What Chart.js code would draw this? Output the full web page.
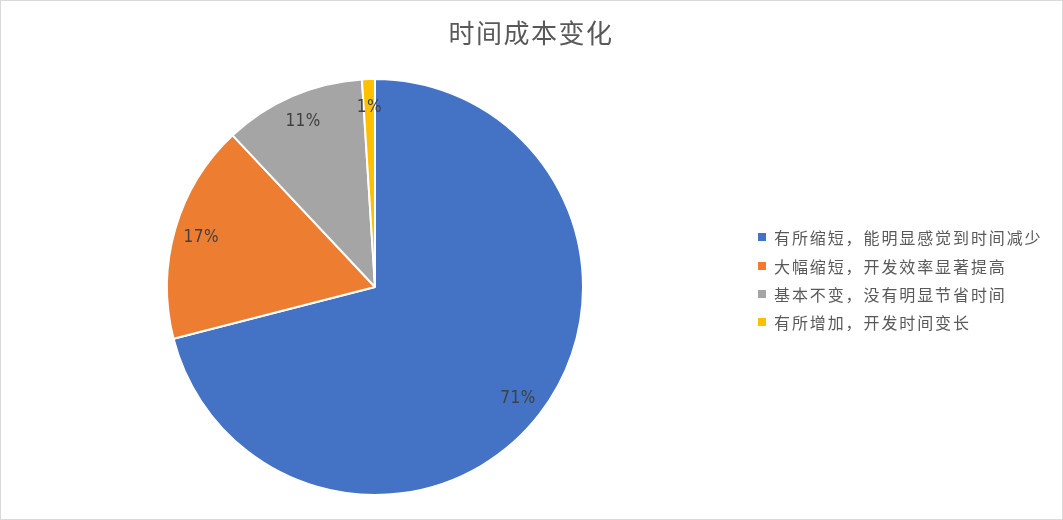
<!DOCTYPE html>
<html>
<head>
<meta charset="utf-8">
<script src="https://cdn.jsdelivr.net/npm/chart.js@4"></script>
<style>
  html, body { margin: 0; padding: 0; background: #fff; overflow: hidden; }
  #wrap { width: 1063px; height: 520px; position: relative; }
</style>
</head>
<body>
<div id="wrap"><canvas id="pie" width="1063" height="520"></canvas></div>
<script>
// ── Datos del gráfico ──
const chartTitle = '时间成本变化';
const categories = [
    '有所缩短，能明显感觉到时间减少',
    '大幅缩短，开发效率显著提高',
    '基本不变，没有明显节省时间',
    '有所增加，开发时间变长'
];
const values = [71, 17, 11, 1];
const colors = ['#4472C4', '#ED7D31', '#A5A5A5', '#FFC000'];

const CJK = '"Noto Sans CJK SC", "Noto Sans", sans-serif';

// ── Plugin: marco, título, leyenda y etiquetas de porcentaje ──
const decorPlugin = {
    id: 'decor',
    afterDraw(chart) {
        const ctx = chart.ctx;
        ctx.save();

        // marco exterior
        ctx.strokeStyle = '#d9d9d9';
        ctx.lineWidth = 1;
        ctx.strokeRect(0.5, 0.5, chart.width - 1, chart.height - 1);

        // título
        ctx.fillStyle = '#595959';
        ctx.font = '26px ' + CJK;
        ctx.letterSpacing = '1.5px';
        ctx.textAlign = 'center';
        ctx.textBaseline = 'middle';
        ctx.fillText(chartTitle, 531, 33);

        // leyenda
        const rowsY = [237, 266, 294, 322];
        ctx.font = '16px ' + CJK;
        ctx.letterSpacing = '1.9px';
        ctx.textAlign = 'left';
        categories.forEach((c, i) => {
            ctx.fillStyle = colors[i];
            ctx.fillRect(758, rowsY[i] - 4, 8, 8);
            ctx.fillStyle = '#595959';
            ctx.fillText(c, 774, rowsY[i] + 1);
        });

        // etiquetas dentro de cada sector
        const total = values.reduce((a, b) => a + b, 0);
        const meta = chart.getDatasetMeta(0);
        ctx.letterSpacing = '0.5px';
        ctx.font = '17px "Liberation Sans Narrow", "DejaVu Sans Condensed", sans-serif';
        ctx.fillStyle = '#404040';
        ctx.textAlign = 'center';
        meta.data.forEach((arc, i) => {
            const p = arc.getProps(['x', 'y', 'startAngle', 'endAngle', 'outerRadius'], true);
            const mid = (p.startAngle + p.endAngle) / 2;
            const r = p.outerRadius * 0.87;
            const txt = Math.round(values[i] / total * 100) + '%';
            ctx.fillText(txt, p.x + Math.cos(mid) * r, p.y + Math.sin(mid) * r + 1);
        });

        ctx.restore();
    }
};

new Chart(document.getElementById('pie'), {
    type: 'pie',
    data: {
        labels: categories,
        datasets: [{
            data: values,
            backgroundColor: colors,
            borderColor: '#ffffff',
            borderWidth: 2
        }]
    },
    options: {
        responsive: false,
        animation: false,
        devicePixelRatio: 1,
        layout: { padding: { left: 166, right: 479, top: 78, bottom: 24 } },
        plugins: {
            legend: { display: false },
            tooltip: { enabled: false },
            title: { display: false }
        }
    },
    plugins: [decorPlugin]
});
</script>
</body>
</html>
